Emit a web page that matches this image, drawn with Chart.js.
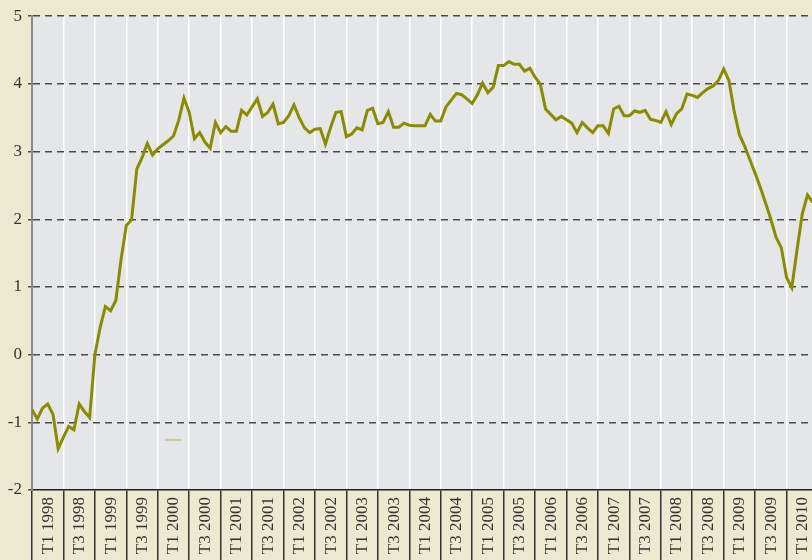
<!DOCTYPE html>
<html>
<head>
<meta charset="utf-8">
<script src="https://cdn.jsdelivr.net/npm/chart.js@4/dist/chart.umd.min.js"></script>
<style>
  html, body { margin: 0; padding: 0; background: #ece9d1; overflow: hidden; }
  canvas { display: block; }
</style>
</head>
<body>
<canvas id="grafica" width="830" height="560"></canvas>
<script>
// etiquetas de semestre (una cada 6 meses)
var etiquetas = ['T1 1998', 'T3 1998', 'T1 1999', 'T3 1999', 'T1 2000', 'T3 2000', 'T1 2001', 'T3 2001',
  'T1 2002', 'T3 2002', 'T1 2003', 'T3 2003', 'T1 2004', 'T3 2004', 'T1 2005', 'T3 2005',
  'T1 2006', 'T3 2006', 'T1 2007', 'T3 2007', 'T1 2008', 'T3 2008', 'T1 2009', 'T3 2009', 'T1 2010'];

// valores mensuales desde enero 1998
var valores = [
  -0.81, -0.95, -0.79, -0.73, -0.88, -1.39, -1.22, -1.06, -1.11, -0.73, -0.84, -0.93,
  0.00, 0.40, 0.71, 0.65, 0.80, 1.41, 1.91, 1.99, 2.74, 2.91, 3.12, 2.95,
  3.04, 3.10, 3.16, 3.23, 3.46, 3.79, 3.58, 3.19, 3.28, 3.14, 3.05, 3.43,
  3.28, 3.37, 3.30, 3.30, 3.61, 3.54, 3.66, 3.78, 3.52, 3.58, 3.70, 3.41,
  3.43, 3.53, 3.69, 3.50, 3.35, 3.28, 3.33, 3.34, 3.11, 3.36, 3.58, 3.59,
  3.22, 3.26, 3.35, 3.32, 3.61, 3.64, 3.41, 3.43, 3.59, 3.36, 3.36, 3.42,
  3.39, 3.38, 3.38, 3.38, 3.55, 3.45, 3.45, 3.66, 3.76, 3.86, 3.84, 3.78,
  3.71, 3.84, 4.01, 3.87, 3.95, 4.27, 4.27, 4.33, 4.29, 4.29, 4.19, 4.23,
  4.10, 4.00, 3.63, 3.55, 3.47, 3.52, 3.47, 3.42, 3.28, 3.43, 3.35, 3.28,
  3.38, 3.38, 3.27, 3.63, 3.67, 3.53, 3.53, 3.60, 3.58, 3.61, 3.48, 3.46,
  3.43, 3.59, 3.40, 3.56, 3.63, 3.85, 3.83, 3.80, 3.87, 3.93, 3.97, 4.05,
  4.22, 4.05, 3.60, 3.25, 3.08, 2.88, 2.68, 2.47, 2.24, 2.00, 1.73, 1.58,
  1.14, 0.99, 1.55, 2.08, 2.36, 2.25
];

var ticksY = [-2, -1, 0, 1, 2, 3, 4, 5];

var puntos = valores.map(function(v, i) { return {x: i, y: v}; });

// fondo gris del area del grafico
var fondoArea = {
  id: 'fondoArea',
  beforeDraw: function(chart) {
    var a = chart.chartArea;
    var ctx = chart.ctx;
    ctx.save();
    ctx.fillStyle = '#e5e6e8';
    ctx.fillRect(a.left, a.top, a.right - a.left, a.bottom - a.top);
    ctx.restore();
  }
};

// pequeña marca suelta que aparece en el original (resto de leyenda)
var marcaSuelta = {
  id: 'marcaSuelta',
  afterDatasetsDraw: function(chart) {
    var sx = chart.scales.x, sy = chart.scales.y;
    var ctx = chart.ctx;
    ctx.save();
    ctx.strokeStyle = '#c9c7a0';
    ctx.lineWidth = 2;
    ctx.beginPath();
    ctx.moveTo(sx.getPixelForValue(25.4), sy.getPixelForValue(-1.26));
    ctx.lineTo(sx.getPixelForValue(28.5), sy.getPixelForValue(-1.26));
    ctx.stroke();
    ctx.restore();
  }
};

var ctx = document.getElementById('grafica').getContext('2d');
var miGrafica = new Chart(ctx, {
  type: 'line',
  data: {
    datasets: [{
      data: puntos,
      borderColor: '#8c8a00',
      borderWidth: 3,
      pointRadius: 0,
      tension: 0,
      fill: false
    }]
  },
  options: {
    responsive: false,
    animation: false,
    layout: { padding: { top: 16, right: 12, left: 0, bottom: 0 } },
    plugins: { legend: { display: false }, tooltip: { enabled: false } },
    scales: {
      x: {
        type: 'linear',
        min: 0,
        max: etiquetas.length * 6,
        afterBuildTicks: function(scale) {
          scale.ticks = etiquetas.map(function(e, i) { return {value: i * 6}; });
          scale.ticks.push({value: etiquetas.length * 6});
        },
        afterFit: function(scale) { scale.height = 70; },
        grid: {
          color: '#ffffff',
          lineWidth: 1.5,
          tickColor: '#333333',
          tickWidth: 1.5,
          tickLength: 75
        },
        border: { color: '#222222', width: 1.5 },
        ticks: {
          autoSkip: false,
          maxRotation: 90,
          minRotation: 90,
          padding: -68,
          labelOffset: 16.2,
          color: '#333333',
          font: { family: 'Liberation Serif', size: 17 },
          callback: function(v) { return etiquetas[v / 6] || ''; }
        }
      },
      y: {
        min: ticksY[0],
        max: ticksY[ticksY.length - 1],
        afterBuildTicks: function(scale) {
          scale.ticks = ticksY.map(function(v) { return {value: v}; });
        },
        afterFit: function(scale) { scale.width = 32; },
        grid: {
          color: function(c) { return c.tick && c.tick.value === ticksY[0] ? 'rgba(0,0,0,0)' : '#4a4a4a'; },
          lineWidth: 1.5,
          tickColor: '#4a4a4a',
          tickLength: 4,
          tickWidth: 1.5
        },
        border: { color: '#8a8a8a', width: 2, dash: [7, 5] },
        ticks: {
          padding: 6,
          color: '#333333',
          font: { family: 'Liberation Serif', size: 17 }
        }
      }
    }
  },
  plugins: [fondoArea, marcaSuelta]
});
</script>
</body>
</html>
